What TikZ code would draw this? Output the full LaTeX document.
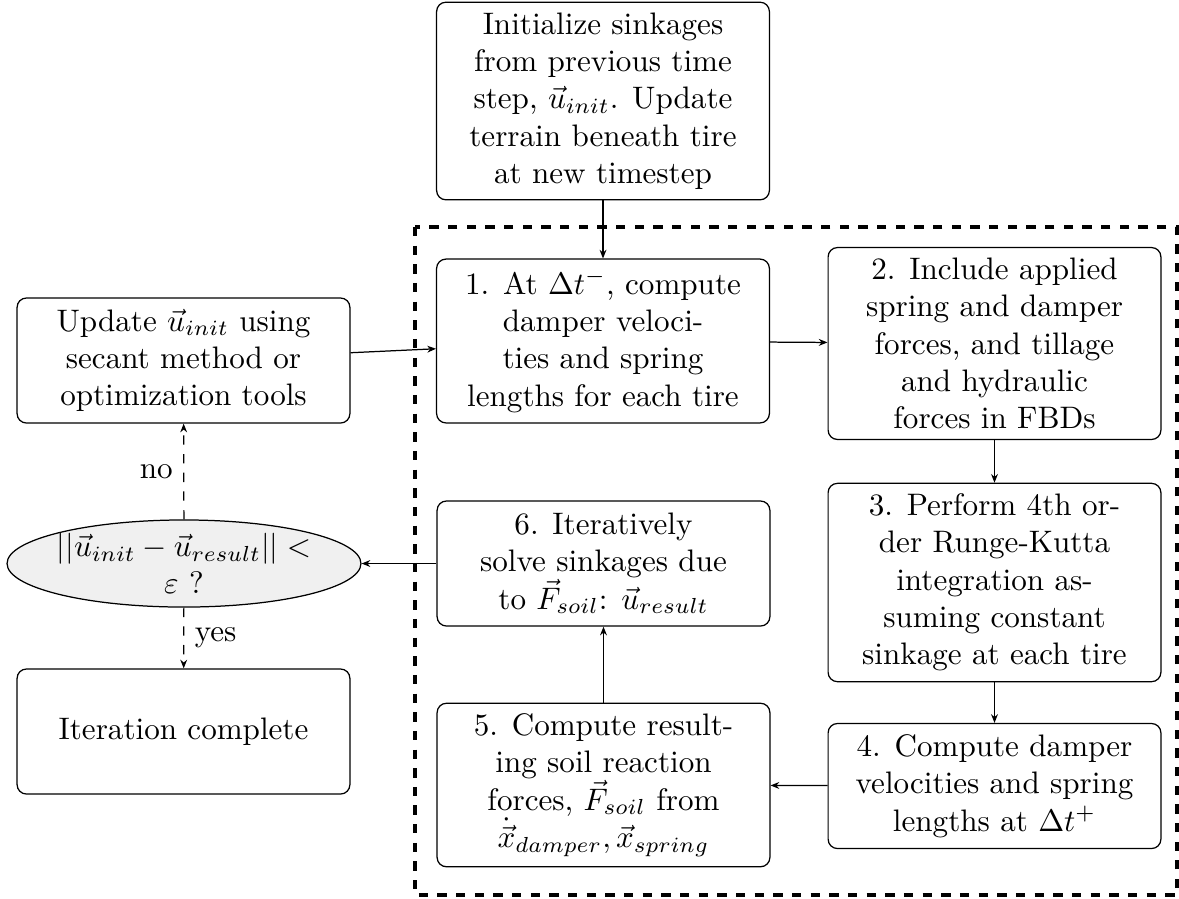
\documentclass[tikz,border=0pt]{standalone}
\usetikzlibrary{shapes.geometric,arrows.meta}
\begin{document}
\begin{tikzpicture}[x=0.32154pt,y=-0.32154pt,
  box/.style={draw, rounded corners=3pt, align=center, minimum width=107pt, minimum height=40.2pt, inner sep=3.33pt},
  arr/.style={-{Stealth[length=2.8pt,width=2.2pt]}},
  frame/.style={draw, very thick, dashed},
  decision/.style={draw, ellipse, fill=black!6, align=center, minimum width=113.8pt, minimum height=28pt, inner sep=-1.5pt}]
\useasboundingbox (0,0) rectangle (1179,898);
\draw[frame] (415,227) rectangle (1177,895);
\node[box] (init) at (603,101) {Initialize sinkages\\from previous time\\step, $\vec{u}_{init}$. Update\\terrain beneath tire\\at new timestep};
\node[box] (b1) at (603,341) {1. At $\Delta t^{-}$, compute\\damper veloci-\\ties and spring\\lengths for each tire};
\node[box] (b2) at (994.5,343.5) {2. Include applied\\spring and damper\\forces, and tillage\\and hydraulic\\forces in FBDs};
\node[box] (b3) at (994.5,582.5) {3. Perform 4th or-\\der Runge-Kutta\\integration as-\\suming constant\\sinkage at each tire};
\node[box] (b4) at (994.5,786) {4. Compute damper\\velocities and spring\\lengths at $\Delta t^{+}$};
\node[box] (b5) at (603.5,785) {5. Compute result-\\ing soil reaction\\forces, $\vec{F}_{soil}$ from\\$\dot{\vec{x}}_{damper}, \vec{x}_{spring}$};
\node[box] (b6) at (603.5,563.5) {6. Iteratively\\solve sinkages due\\to $\vec{F}_{soil}$: $\vec{u}_{result}$};
\node[box] (upd) at (183.5,360.5) {Update $\vec{u}_{init}$ using\\secant method or\\optimization tools};
\node[decision] (ell) at (184,563.5) {$||\vec{u}_{init} - \vec{u}_{result}|| <$\\$\varepsilon$ ?};
\node[box] (done) at (183.5,731.5) {Iteration complete};
\draw[arr] (init) -- (b1);
\draw[arr] (upd) -- (b1);
\draw[arr] (b1) -- (b2);
\draw[arr] (b2) -- (b3);
\draw[arr] (b3) -- (b4);
\draw[arr] (b4) -- (b5);
\draw[arr] (b5) -- (b6);
\draw[arr] (b6) -- (ell);
\draw[arr,dashed] (ell) -- node[left] {no} (upd);
\draw[arr,dashed] (ell) -- node[right] {yes} (done);
\end{tikzpicture}
\end{document}
